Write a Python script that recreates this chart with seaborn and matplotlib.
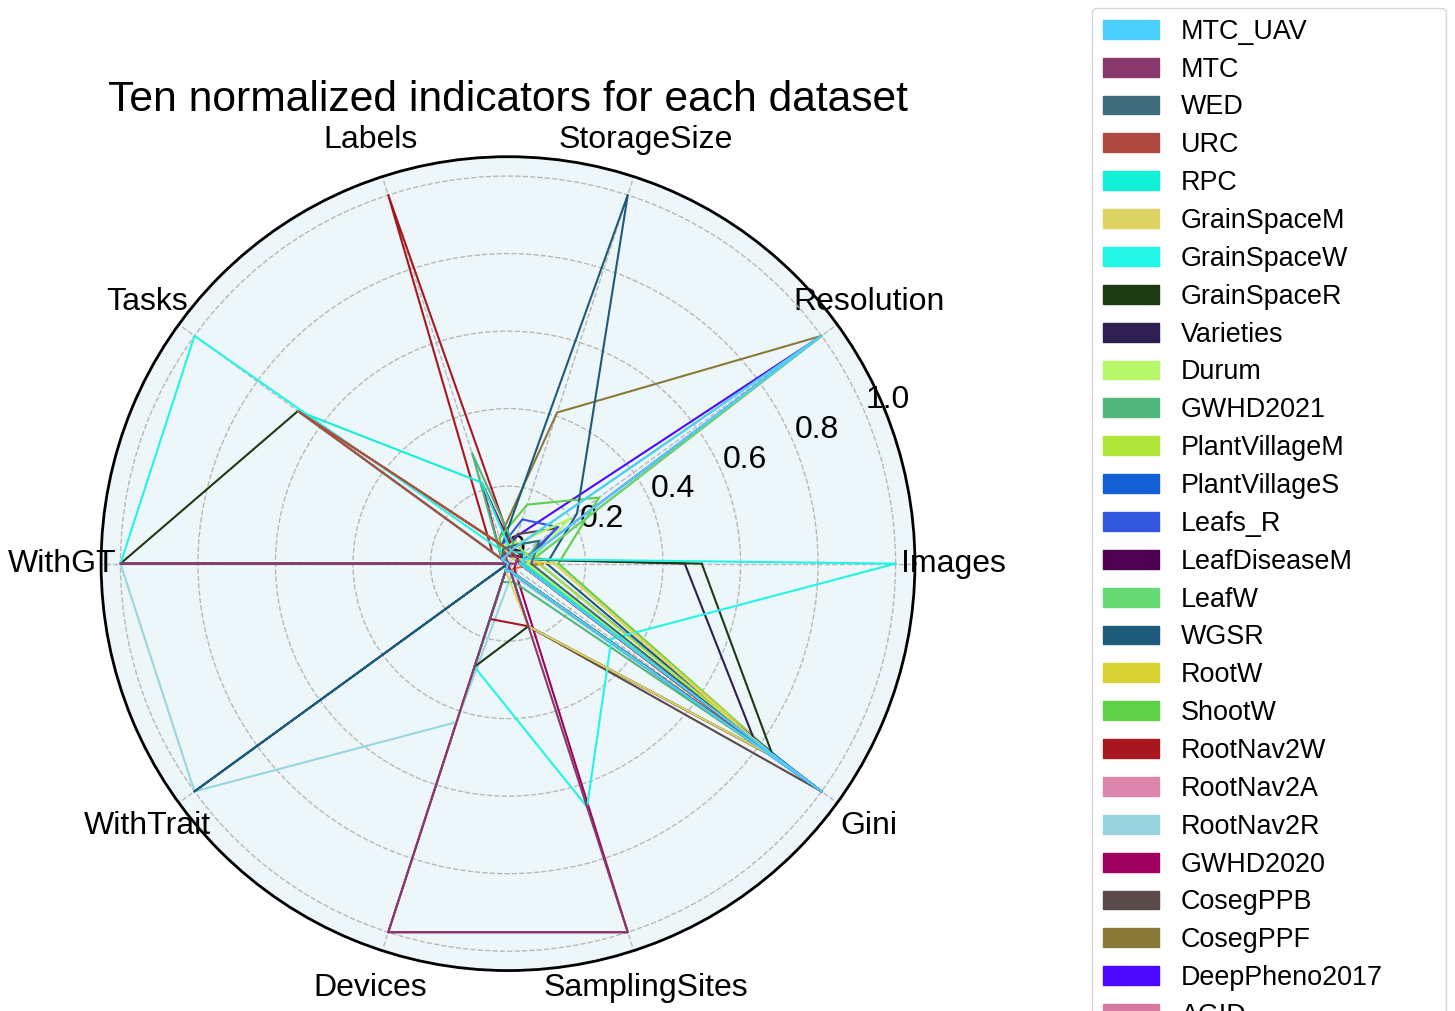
import numpy as np
import pandas as pd
import matplotlib
matplotlib.use("Agg")
import matplotlib.pyplot as plt
import matplotlib.patches as mpatches
import seaborn as sns

# ten indicators, in the order they go round the radar
indicators = ["Images", "Resolution", "StorageSize", "Labels", "Tasks",
              "WithGT", "WithTrait", "Devices", "SamplingSites", "Gini"]

datasets = ["MTC_UAV", "MTC", "WED", "URC", "RPC", "GrainSpaceM", "GrainSpaceW",
            "GrainSpaceR", "Varieties", "Durum", "GWHD2021", "PlantVillageM",
            "PlantVillageS", "Leafs_R", "LeafDiseaseM", "LeafW", "WGSR", "RootW",
            "ShootW", "RootNav2W", "RootNav2A", "RootNav2R", "GWHD2020", "CosegPPB",
            "CosegPPF", "DeepPheno2017", "AGID", "Extra1"]

colors = ["#4dcffe", "#873a6b", "#3f6b7a", "#b04842", "#12f0d8", "#ded466", "#22f5e5",
          "#1d3a12", "#2e1f52", "#b6f86a", "#52b57d", "#b0e53a",
          "#135fd6", "#3457e0", "#4f0052", "#66da74", "#1e5a7a", "#d7d234",
          "#5fd048", "#a8171f", "#dc86ad", "#98d6df", "#a0005f", "#5a4a4a",
          "#8a7a3a", "#4b09ff", "#d87aa0", "#f07010"]

# normalized values per dataset (Images ... Gini)
values = [
    [0.03, 1.00, 0.04, 0.02, 0.02, 0.00, 0.00, 0.02, 0.02, 1.00],  # MTC_UAV
    [0.02, 0.03, 0.02, 0.03, 0.00, 1.00, 0.00, 1.00, 1.00, 0.00],  # MTC
    [0.06, 0.10, 0.05, 0.04, 0.02, 0.00, 0.00, 0.02, 0.02, 0.85],  # WED
    [0.03, 0.03, 0.03, 0.05, 0.67, 0.00, 0.00, 0.02, 0.02, 0.85],  # URC
    [0.04, 0.05, 0.03, 0.22, 0.67, 0.00, 0.00, 0.02, 0.02, 0.85],  # RPC
    [0.12, 0.02, 0.02, 0.05, 0.67, 0.00, 0.00, 0.02, 0.17, 0.845],  # GrainSpaceM
    [1.00, 0.02, 0.02, 0.03, 1.00, 1.00, 0.00, 0.28, 0.66, 0.33],  # GrainSpaceW
    [0.50, 0.02, 0.02, 0.05, 0.67, 1.00, 0.00, 0.28, 0.17, 0.845],  # GrainSpaceR
    [0.456, 0.02, 0.02, 0.05, 0.67, 0.00, 0.00, 0.02, 0.02, 0.79],  # Varieties
    [0.05, 0.20, 0.05, 0.05, 0.02, 0.00, 0.00, 0.02, 0.02, 0.90],  # Durum
    [0.04, 0.10, 0.05, 0.30, 0.02, 0.00, 0.00, 0.05, 0.05, 0.88],  # GWHD2021
    [0.08, 0.05, 0.06, 0.04, 0.02, 0.00, 0.00, 0.02, 0.02, 0.90],  # PlantVillageM
    [0.08, 0.05, 0.06, 0.04, 0.02, 0.00, 0.00, 0.02, 0.02, 0.95],  # PlantVillageS
    [0.03, 0.16, 0.12, 0.05, 0.02, 0.00, 0.00, 0.02, 0.02, 1.00],  # Leafs_R
    [0.03, 0.05, 0.04, 0.03, 0.02, 0.00, 0.00, 0.02, 0.02, 1.00],  # LeafDiseaseM
    [0.05, 1.00, 0.04, 0.03, 0.02, 0.00, 0.00, 0.02, 0.02, 0.90],  # LeafW
    [0.10, 0.22, 1.00, 0.05, 0.02, 0.00, 1.00, 0.00, 0.02, 0.87],  # WGSR
    [0.12, 0.05, 0.04, 0.03, 0.02, 0.00, 0.00, 0.02, 0.02, 0.90],  # RootW
    [0.13, 0.29, 0.16, 0.07, 0.02, 0.00, 0.00, 0.02, 0.02, 0.90],  # ShootW
    [0.03, 0.04, 0.04, 1.00, 0.05, 0.00, 0.00, 0.15, 0.17, 0.85],  # RootNav2W
    [0.04, 0.05, 0.04, 0.05, 0.02, 0.00, 0.00, 0.02, 0.02, 1.00],  # RootNav2A
    [0.03, 0.04, 0.03, 0.04, 0.00, 1.00, 1.00, 0.43, 0.03, 0.95],  # RootNav2R
    [0.02, 0.05, 0.04, 0.22, 0.02, 0.00, 0.00, 1.00, 1.00, 0.02],  # GWHD2020
    [0.04, 0.155, 0.08, 0.04, 0.02, 0.00, 0.00, 0.00, 0.17, 1.00],  # CosegPPB
    [0.05, 1.00, 0.41, 0.07, 0.02, 0.00, 0.00, 0.02, 0.02, 1.00],  # CosegPPF
    [0.03, 1.00, 0.075, 0.03, 0.02, 0.00, 0.00, 0.02, 0.02, 1.00],  # DeepPheno2017
    [0.03, 0.05, 0.03, 0.03, 0.02, 0.00, 0.00, 0.02, 0.02, 1.00],  # AGID
    [0.09, 0.02, 0.02, 0.02, 0.02, 0.00, 0.00, 0.02, 0.02, 0.02],  # Extra1
]

r_ticks = [0, 0.2, 0.4, 0.6, 0.8, 1.0]
r_tick_labels = ["0", "0.2", "0.4", "0.6", "0.8", "1.0"]

sns.set_theme(style="white")
plt.rcParams["font.family"] = ["Liberation Sans", "DejaVu Sans"]
plt.rcParams["text.color"] = "black"
plt.rcParams["xtick.color"] = "black"
plt.rcParams["ytick.color"] = "black"

angles = np.linspace(0, 2 * np.pi, len(indicators), endpoint=False)
closed_angles = np.append(angles, 2 * np.pi)

rows = []
for name, vals in zip(datasets, values):
    closed = list(vals) + [vals[0]]
    for a, v in zip(closed_angles, closed):
        rows.append({"dataset": name, "angle": a, "value": v})
df = pd.DataFrame(rows)

fig = plt.figure(figsize=(14.55, 10.11), dpi=100)
ax = fig.add_axes([0.0694, 0.040, 0.5595, 0.805], polar=True)
ax.set_facecolor("#edf6f9")

# first datasets of the list end up on top
sns.lineplot(data=df, x="angle", y="value", hue="dataset", hue_order=datasets[::-1],
             palette=dict(zip(datasets, colors)), sort=False, estimator=None,
             units="dataset", linewidth=1.5, legend=False, ax=ax)

ax.set_ylim(0, 1.05)
ax.set_yticks(r_ticks)
ax.set_yticklabels(r_tick_labels, fontsize=23)
ax.set_xticks(angles)
ax.set_xticklabels(indicators, fontsize=23)
ax.tick_params(axis="x", pad=15)
ax.set_xlabel("")
ax.set_ylabel("")
ax.grid(True, linestyle="--", color="#b8b8b8", linewidth=1)
ax.spines["polar"].set_linewidth(2)
ax.spines["polar"].set_color("black")

ax.set_title("Ten normalized indicators for each dataset", fontsize=30.7, y=1.0, pad=33)

handles = [mpatches.Patch(color=c, label=n) for n, c in zip(datasets, colors)]
fig.legend(handles=handles, loc="upper left",
           bbox_to_anchor=(1092 / 1455, 0, 354 / 1455, 1 - 8 / 1011), mode="expand",
           fontsize=19.4, handlelength=2.1, labelspacing=0.44, borderaxespad=0,
           frameon=True, edgecolor="#cccccc")

fig.savefig("out.png", dpi=100)
